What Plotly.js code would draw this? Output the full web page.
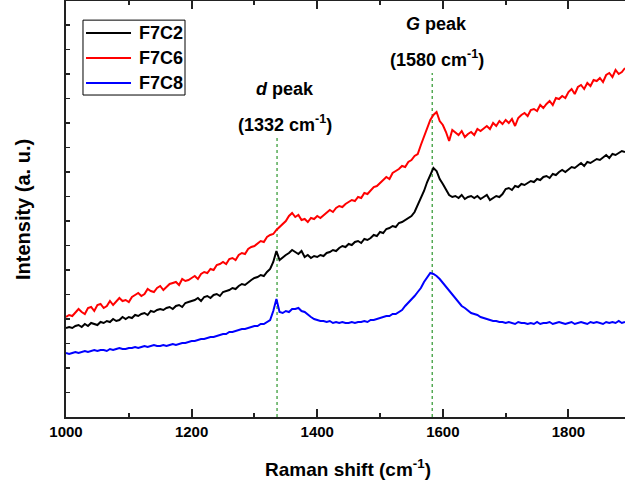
<!DOCTYPE html>
<html>
<head>
<meta charset="utf-8">
<script src="https://cdn.plot.ly/plotly-3.0.1.min.js"></script>
<style>html,body{margin:0;padding:0;background:#fff;}#chart{width:625px;height:488px;}</style>
</head>
<body>
<div id="chart"></div>
<script>
// Raman shift grid (cm^-1): 1000 to 1890, every 5
const shiftStart = 1000;
const shiftStep = 5;

const seriesNames = ["F7C2", "F7C6", "F7C8"];

// Intensity (a. u.)
const f7c6 = [
  100,102,101,104,108,105,103,109,110,106,
  112,113,109,111,116,112,115,119,116,117,
  115,120,122,124,121,123,128,126,125,129,
  131,127,130,133,134,135,132,138,136,137,
  139,141,138,143,145,144,148,147,152,153,
  155,153,158,159,157,162,164,163,168,170,
  171,174,176,175,180,182,183,187,190,193,
  196,201,204,200,202,197,198,195,199,198,
  201,199,202,204,207,205,209,211,210,213,
  215,217,216,220,219,224,223,226,230,231,
  234,237,240,238,244,246,248,251,250,255,
  257,261,263,272,280,288,297,302,305,296,
  292,285,276,287,284,282,286,280,283,285,
  282,288,286,289,291,288,294,291,296,293,
  297,294,298,291,299,302,304,301,307,308,
  306,312,309,313,316,312,319,318,321,319,
  325,328,323,330,332,328,334,331,337,336,
  339,335,342,344,340,347,343,345,349
];

const f7c2 = [
  89,90,89,91,92,90,93,91,94,93,
  92,95,94,96,95,98,96,97,100,98,
  100,99,102,101,103,104,102,106,105,107,
  108,107,109,110,108,111,112,110,114,115,
  116,117,119,116,120,121,119,122,123,121,
  125,126,127,129,128,131,133,132,135,137,
  139,140,142,141,145,148,155,166,157,160,
  162,164,167,165,163,166,160,162,159,161,
  160,162,161,164,165,167,166,169,171,170,
  173,172,175,176,174,178,177,179,182,181,
  185,184,188,189,191,190,194,195,197,199,
  201,205,212,219,226,235,243,249,246,238,
  233,227,222,220,221,219,222,218,220,221,
  219,221,218,220,222,217,219,221,220,223,
  228,229,227,231,230,233,232,234,236,235,
  238,237,240,241,239,243,242,245,247,245,
  248,250,249,252,254,251,255,254,256,258,
  257,260,262,259,263,262,264,266,265
];

const f7c8 = [
  64,63,64,65,64,65,66,65,66,67,
  66,67,67,66,68,67,68,69,68,68,
  69,69,70,69,70,71,70,71,72,71,
  71,72,71,72,73,72,73,74,74,75,
  76,76,77,78,78,79,80,80,81,82,
  83,83,85,85,86,87,88,88,89,90,
  91,91,93,93,95,97,106,118,105,104,
  106,105,108,108,109,106,105,102,100,98,
  97,96,96,95,96,94,95,94,95,94,
  94,95,94,95,95,96,95,97,97,98,
  99,100,101,101,103,103,105,107,111,114,
  117,121,125,129,135,140,144,143,141,138,
  134,131,127,122,118,115,111,109,106,104,
  103,102,100,99,98,97,96,96,95,95,
  94,95,94,93,95,94,94,93,94,93,
  95,93,94,94,95,93,94,95,94,93,
  94,95,93,94,95,94,93,95,94,95,
  94,93,95,94,95,94,96,94,95
];

const seriesColors = ["#000000", "#ff0000", "#0000ff"];

// Peak marker positions (cm^-1) and labels
const peakPositions = [1336, 1583];
const peakTops = [279, 344];
const peakNames = ["<i>d</i> peak", "<i>G</i> peak"];
const peakWaves = ["(1332 cm<sup>-1</sup>)", "(1580 cm<sup>-1</sup>)"];

const xTicks = [1000, 1200, 1400, 1600, 1800];

const shifts = f7c2.map((_, i) => shiftStart + i * shiftStep);
const allSeries = [f7c2, f7c6, f7c8];

const traces = allSeries.map((ys, k) => ({
  type: "scatter",
  mode: "lines",
  x: shifts,
  y: ys,
  name: seriesNames[k],
  showlegend: false,
  line: {color: seriesColors[k], width: 2}
}));

const font = {family: "Liberation Sans, Arial, sans-serif", color: "#000"};

const shapes = peakPositions.map((p, k) => ({
  type: "line", xref: "x", yref: "y",
  x0: p, x1: p, y0: 0, y1: peakTops[k],
  line: {color: "#008000", width: 1, dash: "dot"},
  layer: "below"
}));

const annotations = [];
const labelX = [1348, 1590];
const nameY = [328, 393];
const waveY = [294, 359];
peakPositions.forEach((p, k) => {
  annotations.push({
    xref: "x", yref: "y", x: labelX[k], y: nameY[k], text: "<b>" + peakNames[k] + "</b>",
    showarrow: false, xanchor: "center", yanchor: "middle",
    font: Object.assign({}, font, {size: 18})
  });
  annotations.push({
    xref: "x", yref: "y", x: labelX[k], y: waveY[k], text: "<b>" + peakWaves[k] + "</b>",
    showarrow: false, xanchor: "center", yanchor: "middle",
    font: Object.assign({}, font, {size: 18})
  });
});

// Hand-built legend (box, line samples, names) in paper coordinates
const legX0 = 0.0304, legX1 = 0.2129, legY0 = 0.774, legY1 = 0.954;
const legRows = [0.923, 0.863, 0.803];
shapes.push({
  type: "rect", xref: "paper", yref: "paper",
  x0: legX0, x1: legX1, y0: legY0, y1: legY1,
  line: {color: "#000", width: 1}, fillcolor: "#fff", layer: "above"
});
seriesNames.forEach((nm, k) => {
  shapes.push({
    type: "line", xref: "paper", yref: "paper",
    x0: 0.0358, x1: 0.1163, y0: legRows[k], y1: legRows[k],
    line: {color: seriesColors[k], width: 2}, layer: "above"
  });
  annotations.push({
    xref: "paper", yref: "paper", x: 0.1270, y: legRows[k], text: "<b>" + nm + "</b>",
    showarrow: false, xanchor: "left", yanchor: "middle",
    font: Object.assign({}, font, {size: 18})
  });
});

// Axis titles
annotations.push({
  xref: "paper", yref: "paper", x: 0.505, y: -0.1226,
  text: "<b>Raman shift (cm<sup>-1</sup>)</b>",
  showarrow: false, xanchor: "center", yanchor: "middle",
  font: Object.assign({}, font, {size: 19})
});
annotations.push({
  xref: "paper", yref: "paper", x: -0.0769, y: 0.4976,
  text: "<b>Intensity (a. u.)</b>", textangle: -90,
  showarrow: false, xanchor: "center", yanchor: "middle",
  font: Object.assign({}, font, {size: 20})
});

const layout = {
  width: 625, height: 488,
  margin: {l: 66, r: 0, t: 1, b: 71},
  paper_bgcolor: "#fff", plot_bgcolor: "#fff",
  font: font,
  showlegend: false,
  xaxis: {
    range: [1000, 1890],
    tickvals: xTicks,
    ticktext: xTicks.map(String),
    ticks: "inside", ticklen: 8, tickwidth: 2, tickcolor: "#222",
    showline: true, linewidth: 2, linecolor: "#222", mirror: "ticks",
    showgrid: false, zeroline: false,
    tickfont: Object.assign({}, font, {size: 15, weight: "bold"}),
    minor: {dtick: 100, tick0: 1000, ticks: "inside", ticklen: 4, tickwidth: 2, tickcolor: "#222", showgrid: false}
  },
  yaxis: {
    range: [0, 416],
    tick0: 0, dtick: 24.5,
    ticks: "inside", ticklen: 4, tickwidth: 1.5, tickcolor: "#222",
    showticklabels: false,
    showline: true, linewidth: 2, linecolor: "#222", mirror: false,
    showgrid: false, zeroline: false
  },
  shapes: shapes,
  annotations: annotations
};

Plotly.newPlot("chart", traces, layout, {staticPlot: true, displayModeBar: false});
</script>
</body>
</html>
